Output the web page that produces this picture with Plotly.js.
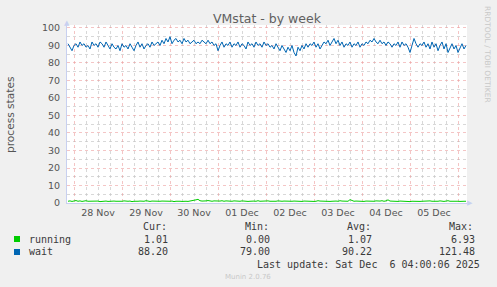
<!DOCTYPE html>
<html>
<head>
<meta charset="utf-8">
<script src="https://cdn.plot.ly/plotly-3.0.1.min.js"></script>
<style>
html,body{margin:0;padding:0;background:#F0F0F0;}
#chart{width:497px;height:287px;}
</style>
</head>
<body>
<div id="chart"></div>
<script>
// ---- data ----
var startTime = '2025-11-27T21:00:00';   // first sample, hourly samples
var stepHours = 1;
var seriesNames = ['running', 'wait'];
var seriesColors = ['#00CC00', '#0066B3'];

var running = [
  1.0, 1.2, 0.9, 1.1, 1.4, 1.0, 1.2, 0.9, 1.1, 1.3, 1.0, 1.1,
  0.9, 1.2, 1.0, 1.1, 0.8, 1.0, 1.2, 1.1, 0.9, 1.0, 1.3, 1.1,
  1.0, 0.9, 1.1, 1.0, 1.2, 0.9, 1.0, 1.1, 0.8, 1.0, 1.2, 1.0,
  1.1, 0.9, 1.0, 1.3, 1.0, 0.9, 1.1, 1.0, 1.2, 0.9, 1.0, 1.1,
  1.0, 1.2, 0.9, 1.0, 1.1, 0.8, 1.0, 1.2, 1.0, 0.9, 1.1, 1.0,
  0.9, 1.1, 1.0, 1.2, 1.8, 2.1, 1.3, 1.1, 1.0, 1.2, 1.4, 1.1,
  1.0, 1.2, 1.1, 0.9, 1.1, 1.3, 1.0, 1.2, 1.1, 0.9, 1.0, 1.2,
  1.1, 0.9, 1.0, 1.2, 1.0, 1.1, 0.9, 1.0, 1.2, 1.1, 1.0, 1.3,
  1.0, 1.1, 0.9, 1.0, 1.2, 1.0, 0.9, 1.1, 1.0, 1.2, 0.9, 1.0,
  1.1, 1.0, 1.2, 0.9, 1.0, 1.1, 1.0, 1.2, 1.0, 0.9, 1.1, 1.0,
  1.2, 1.0, 1.1, 0.9, 1.0, 1.3, 1.1, 1.0, 1.2, 1.0, 1.1, 0.9,
  1.0, 1.2, 1.1, 1.0, 1.3, 1.1, 1.0, 1.2, 1.0, 1.9, 1.2, 1.0,
  1.1, 1.0, 1.2, 1.0, 0.9, 1.1, 1.0, 1.2, 1.1, 1.0, 1.2, 1.0,
  1.1, 1.3, 1.0, 1.2, 1.8, 1.1, 1.0, 1.2, 1.0, 0.9, 1.1, 1.0,
  0.9, 1.0, 1.1, 0.8, 1.0, 0.9, 1.1, 1.0, 0.9, 1.0, 1.1, 1.0,
  1.0, 1.2, 1.0, 0.9, 1.1, 1.0, 1.2, 1.0, 0.9, 1.1, 1.3, 1.0,
  1.1, 1.0, 1.2, 1.0, 0.9, 1.1, 1.0, 1.0
];

var wait = [
  91, 89, 87, 90, 91, 89, 92, 90, 91, 89, 90, 88,
  92, 90, 91, 89, 92, 91, 89, 92, 90, 88, 91, 89,
  88, 90, 87, 91, 89, 90, 88, 91, 89, 87, 90, 92,
  89, 91, 88, 90, 91, 89, 92, 90, 91, 92, 90, 93,
  91, 94, 92, 95, 91, 93, 94, 92, 93, 91, 94, 92,
  93, 91, 92, 93, 91, 92, 91, 93, 92, 91, 93, 91,
  92, 90, 91, 87, 90, 92, 89, 91, 90, 92, 89, 91,
  90, 92, 89, 91, 90, 88, 92, 90, 91, 89, 92, 90,
  91, 89, 92, 90, 91, 89, 90, 88, 91, 89, 87, 90,
  88, 86, 89, 87, 90, 86, 84, 89, 87, 90, 88, 91,
  89, 91, 90, 92, 89, 91, 88, 90, 92, 91, 93, 90,
  92, 94, 91, 93, 90, 92, 89, 91, 90, 92, 89, 91,
  90, 92, 89, 91, 90, 92, 91, 93, 92, 94, 92, 91,
  93, 91, 92, 90, 92, 91, 89, 91, 90, 92, 89, 92,
  90, 91, 89, 86, 90, 94, 91, 89, 91, 90, 92, 89,
  91, 88, 92, 89, 91, 87, 90, 92, 88, 91, 86, 89,
  91, 88, 90, 86, 89, 91, 88, 90
];

var dayTickVals = ['2025-11-28 12:00','2025-11-29 12:00','2025-11-30 12:00','2025-12-01 12:00',
                   '2025-12-02 12:00','2025-12-03 12:00','2025-12-04 12:00','2025-12-05 12:00'];
var dayTickText = ['28 Nov','29 Nov','30 Nov','01 Dec','02 Dec','03 Dec','04 Dec','05 Dec'];
var xRange = ['2025-11-27 20:30','2025-12-06 04:30'];

var statHeaders = ['Cur:','Min:','Avg:','Max:'];
var statsRunning = ['1.01','0.00','1.07','6.93'];
var statsWait = ['88.20','79.00','90.22','121.48'];
var lastUpdate = 'Last update: Sat Dec  6 04:00:06 2025';
var munin = 'Munin 2.0.76';

// ---- build times ----
function pad(n){return (n<10?'0':'')+n;}
function timeList(start, stepH, n){
  var t0 = Date.parse(start + 'Z');
  var out = [];
  for (var i=0;i<n;i++){
    var d = new Date(t0 + i*stepH*3600000);
    out.push(d.getUTCFullYear()+'-'+pad(d.getUTCMonth()+1)+'-'+pad(d.getUTCDate())+' '+
             pad(d.getUTCHours())+':'+pad(d.getUTCMinutes()));
  }
  return out;
}
var times = timeList(startTime, stepHours, wait.length);

// ---- geometry helpers (page px -> paper) ----
var W=497, H=287, L=67, R=30, T=25, B=84;
var pw = W-L-R, ph = H-T-B;
function px(x){return (x-L)/pw;}
function py(y){return (H-B-y)/ph;}

var traces = [
  {x: times, y: running, type:'scatter', mode:'lines', name: seriesNames[0],
   line:{color:seriesColors[0], width:1}, hoverinfo:'skip'},
  {x: times, y: wait, type:'scatter', mode:'lines', name: seriesNames[1],
   line:{color:seriesColors[1], width:1}, hoverinfo:'skip'},
  {x: [times[0]], y:[null], xaxis:'x2', type:'scatter', mode:'lines', showlegend:false, hoverinfo:'skip'}
];

var mono = 'DejaVu Sans Mono, monospace';
var txtColor = '#3A3A3A';
var ann = [];
function addT(text, x, y, anchor, size, color, family){
  ann.push({text:text, x:px(x), y:py(y), xref:'paper', yref:'paper', xanchor:anchor, yanchor:'middle',
    showarrow:false, font:{family:family||mono, size:size||10, color:color||txtColor}});
}
var headLeft = [141,243,345,447];
var valRight = [170,272,374,477];
for (var i=0;i<4;i++){
  addT(statHeaders[i], headLeft[i], 227, 'left');
  addT(statsRunning[i], valRight[i], 239, 'right');
  addT(statsWait[i], valRight[i], 252, 'right');
}
addT(seriesNames[0], 27, 239, 'left');
addT(seriesNames[1], 27, 252, 'left');
addT(lastUpdate, 482, 264, 'right');
addT(munin, 223, 277, 'left', 7, '#C8C8C8', 'DejaVu Sans, sans-serif');
// y title
ann.push({text:'process states', x:px(10), y:py(115), xref:'paper', yref:'paper', textangle:-90,
  showarrow:false, xanchor:'center', yanchor:'middle', font:{family:'DejaVu Sans, sans-serif', size:10.6, color:'#555555'}});
// right vertical credit
ann.push({text:'RRDTOOL / TOBI OETIKER', x:px(487), y:py(54), xref:'paper', yref:'paper', textangle:90,
  showarrow:false, xanchor:'center', yanchor:'middle', font:{family:'DejaVu Sans, sans-serif', size:7.5, color:'#C8C8C8'}});
// axis arrows
ann.push({text:'▲', x:px(67), y:py(23), xref:'paper', yref:'paper', showarrow:false, xanchor:'center', yanchor:'middle',
  font:{size:7, color:'#C8D0F0'}});
ann.push({text:'▶', x:px(470), y:py(203), xref:'paper', yref:'paper', showarrow:false, xanchor:'center', yanchor:'middle',
  font:{size:7, color:'#C8D0F0'}});

var shapes = [
  {type:'rect', xref:'paper', yref:'paper', x0:px(14), x1:px(20), y0:py(236), y1:py(242),
   fillcolor:seriesColors[0], line:{width:0}},
  {type:'rect', xref:'paper', yref:'paper', x0:px(14), x1:px(20), y0:py(249), y1:py(255),
   fillcolor:seriesColors[1], line:{width:0}}
];

var gridMajor = 'rgba(235,150,150,0.55)';
var gridMinor = 'rgba(200,200,200,0.7)';

var layout = {
  width: W, height: H,
  margin: {l:L, r:R, t:T, b:B, pad:0},
  paper_bgcolor:'#F0F0F0', plot_bgcolor:'#FFFFFF',
  showlegend:false,
  title:{text:'VMstat - by week', x:0.5, xref:'paper', xanchor:'center', y:1-18.5/H, yanchor:'middle',
    font:{family:'DejaVu Sans, sans-serif', size:12.5, color:'#606060'}},
  font:{family:'DejaVu Sans, sans-serif', size:9, color:'#555555'},
  xaxis:{type:'date', range:xRange, tick0:'2025-11-28', dtick:86400000,
    showticklabels:false, ticks:'', showgrid:true, gridcolor:gridMajor, griddash:'dot', gridwidth:1,
    minor:{dtick:6*3600000, tick0:'2025-11-28', showgrid:true, gridcolor:gridMinor, griddash:'dot', gridwidth:1},
    showline:true, linecolor:'#C8D0F0', linewidth:1, zeroline:false, fixedrange:true},
  xaxis2:{type:'date', overlaying:'x', matches:'x', side:'bottom', range:xRange,
    tickmode:'array', tickvals:dayTickVals, ticktext:dayTickText, showgrid:false, ticks:'',
    tickfont:{family:'DejaVu Sans, sans-serif', size:9.5, color:'#555555'}, showline:false, zeroline:false,
    ticklabelstandoff:2},
  yaxis:{range:[0,101.7], tickmode:'linear', tick0:0, dtick:10, ticks:'', showgrid:true,
    gridcolor:gridMajor, griddash:'dot', gridwidth:1,
    minor:{dtick:5, tick0:0, showgrid:true, gridcolor:gridMinor, griddash:'dot', gridwidth:1},
    showline:true, linecolor:'#C8D0F0', linewidth:1, zeroline:false,
    tickfont:{family:'DejaVu Sans, sans-serif', size:9.5, color:'#555555'}, ticklabelstandoff:4},
  annotations: ann,
  shapes: shapes
};

Plotly.newPlot('chart', traces, layout, {staticPlot:true, displayModeBar:false});
</script>
</body>
</html>
